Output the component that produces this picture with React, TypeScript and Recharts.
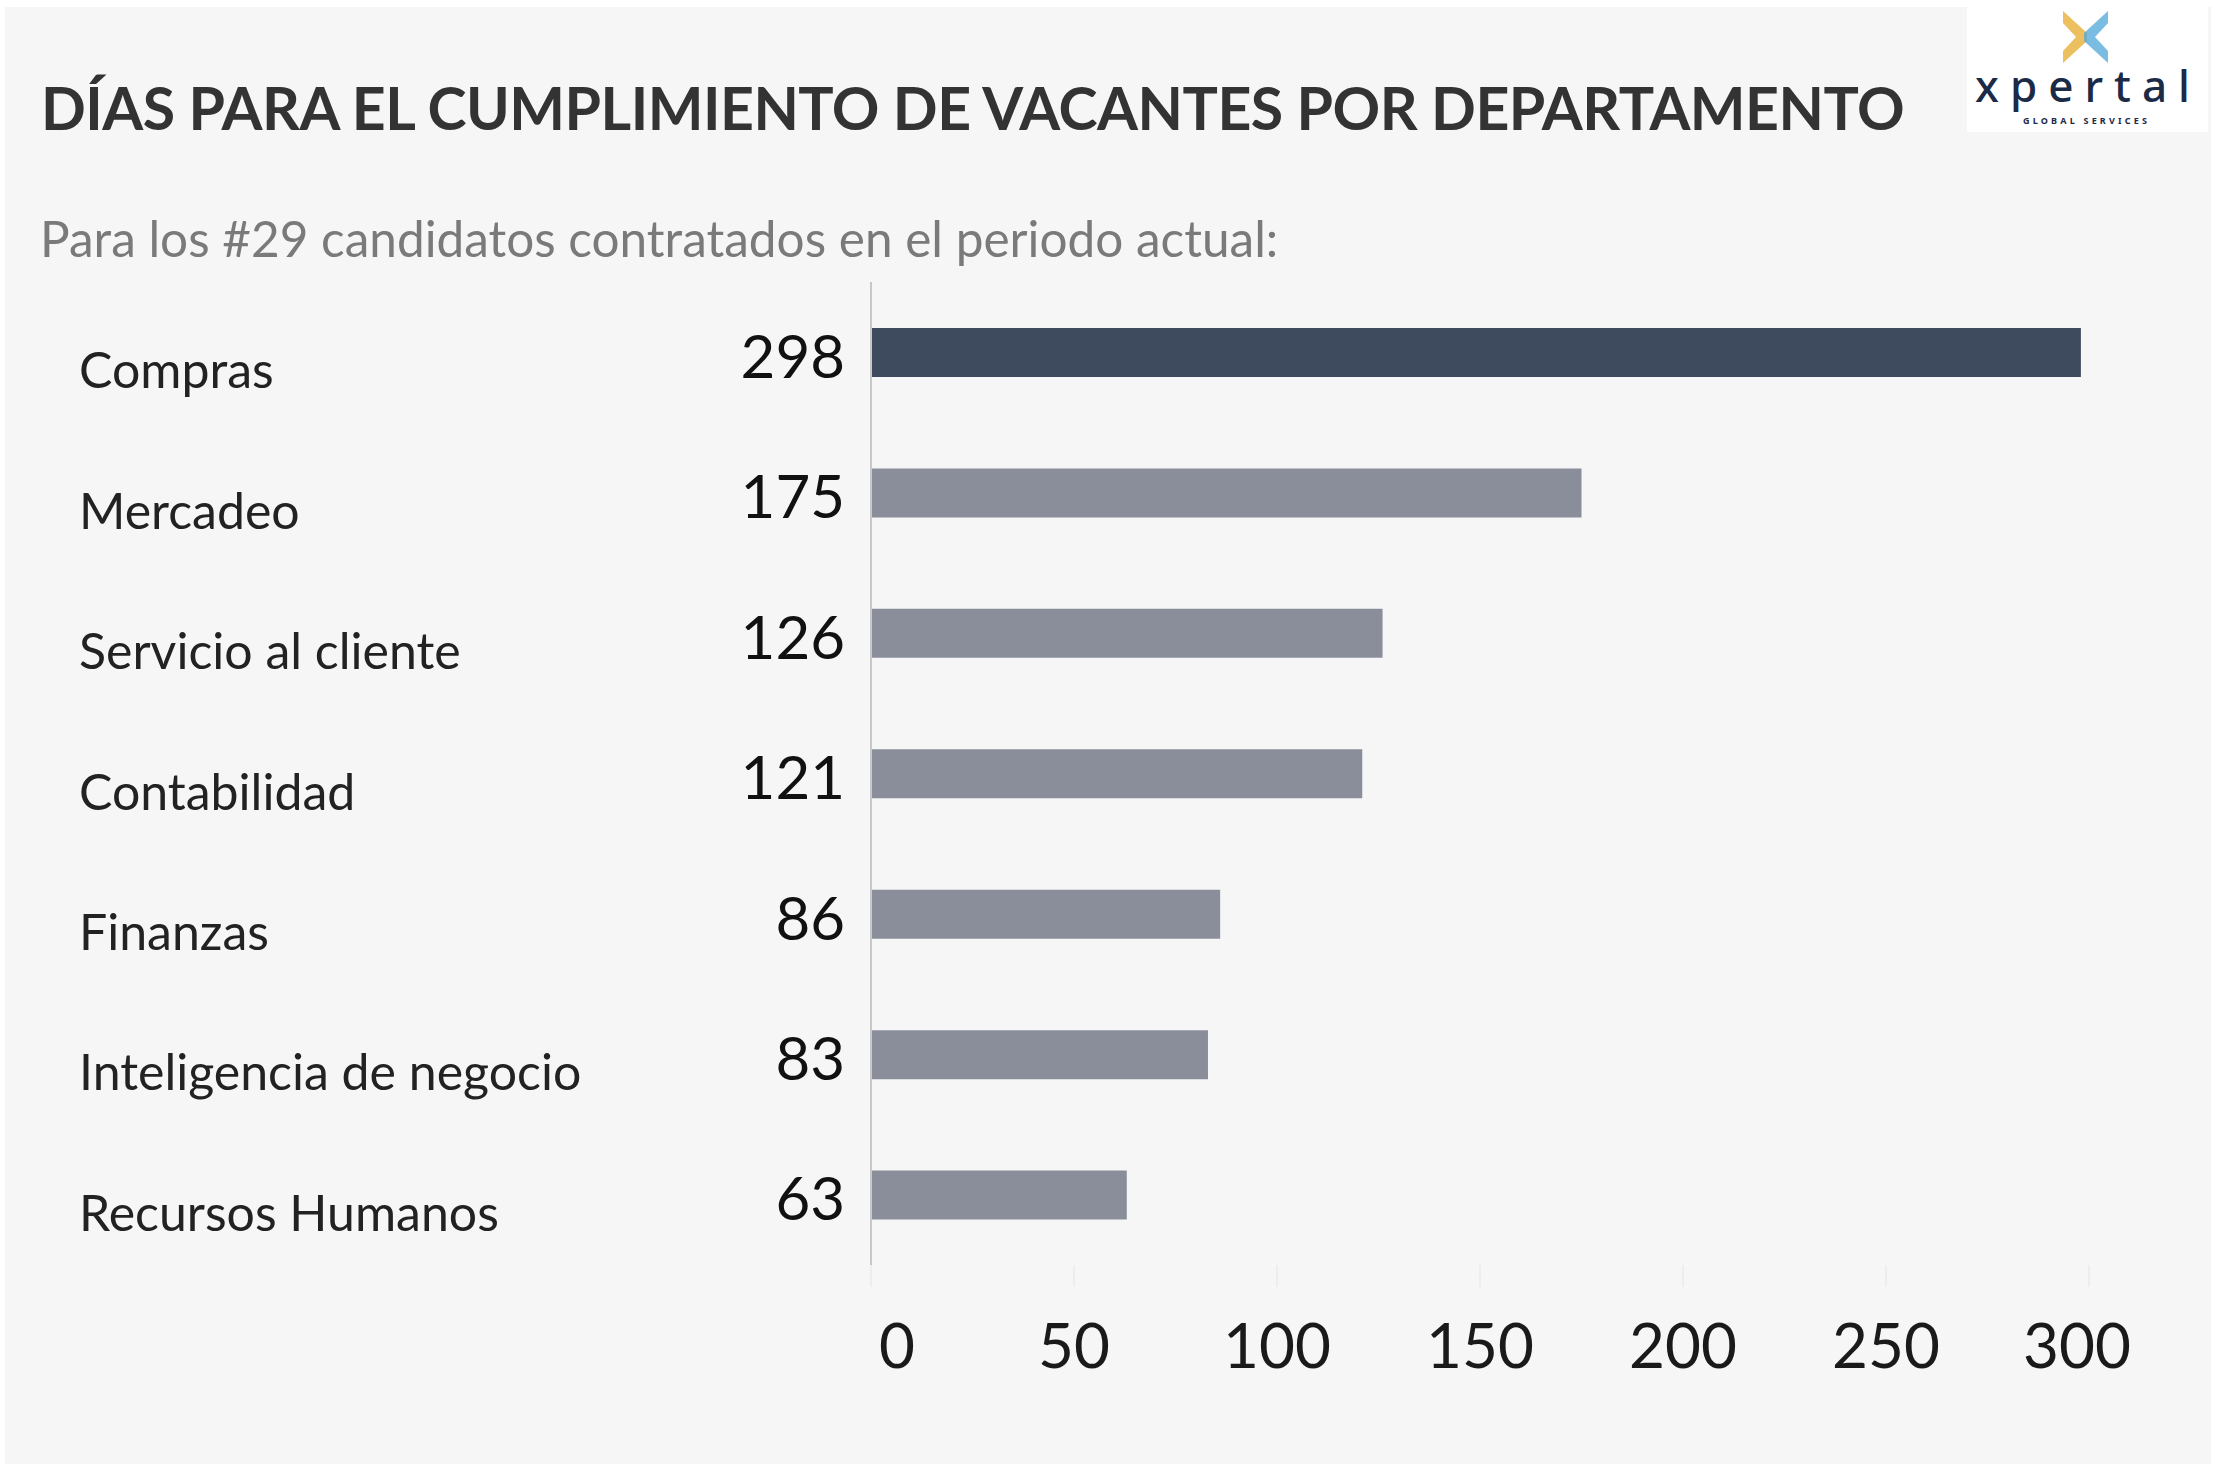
import React from 'react'
import { Bar, BarChart, Cell, LabelList, XAxis, YAxis } from 'recharts'

const DEPARTMENTS = [
  'Compras',
  'Mercadeo',
  'Servicio al cliente',
  'Contabilidad',
  'Finanzas',
  'Inteligencia de negocio',
  'Recursos Humanos',
]
const DAYS = [298, 175, 126, 121, 86, 83, 63]
const X_TICKS = [0, 50, 100, 150, 200, 250, 300]

const HIGHLIGHT = '#3e4a5e'
const MUTED = '#898e9a'
const FONT = 'Lato, "Noto Sans", sans-serif'

const data = DEPARTMENTS.map((name, i) => ({ name, days: DAYS[i] }))

function CategoryTick({ y, payload }: any) {
  return (
    <text x={79} y={y + 17} dominantBaseline="central" textAnchor="start" fontFamily={FONT} fontSize={50} fill="#222">
      {payload.value}
    </text>
  )
}

function ValueTick({ x, payload, index }: any) {
  const dx = index === 0 ? 26 : index === X_TICKS.length - 1 ? -12 : 0
  return (
    <text x={x + dx} y={1344} dominantBaseline="central" textAnchor="middle" fontFamily={FONT} fontSize={62} fill="#1a1a1a">
      {payload.value}
    </text>
  )
}

function Logo() {
  return (
    <div style={{ position: 'absolute', left: 1967, top: 7, width: 241, height: 125, background: '#fff' }}>
      <svg width={241} height={125} viewBox="1967 7 241 125" style={{ position: 'absolute', left: 0, top: 0 }}>
        <polygon points="2063,11 2087,33 2087,41 2063,63 2063,51 2076,37 2063,23" fill="#e9b443" opacity={0.85} />
        <polygon points="2108,11 2084,33 2084,41 2108,63 2108,51 2095,37 2108,23" fill="#4fa6da" opacity={0.75} />
        <text x={1975} y={102} textAnchor="start" fontFamily='"Noto Sans", sans-serif' fontWeight={500} fontSize={44} letterSpacing={11} fill="#1b2a47">
          xpertal
        </text>
        <text x={2023} y={124} textAnchor="start" fontFamily='"Noto Sans", sans-serif' fontWeight={700} fontSize={9} letterSpacing={3.2} fill="#1b2a47">
          GLOBAL SERVICES
        </text>
      </svg>
    </div>
  )
}

export default function App() {
  return (
    <div style={{ position: 'absolute', left: 0, top: 0, width: 2216, height: 1464, background: '#fff', overflow: 'hidden' }}>
      <div style={{ position: 'absolute', left: 5, top: 7, width: 2206, height: 1457, background: '#f6f6f6' }} />
      <BarChart
        width={2216}
        height={1464}
        data={data}
        layout="vertical"
        margin={{ top: 282, right: 127, bottom: 0, left: 0 }}
        style={{ position: 'absolute', left: 0, top: 0 }}
      >
        <XAxis
          type="number"
          domain={[0, 300]}
          ticks={X_TICKS}
          height={199}
          axisLine={false}
          tickLine={{ stroke: '#ededed', strokeWidth: 2 }}
          tickSize={22}
          tick={<ValueTick />}
        />
        <YAxis
          type="category"
          dataKey="name"
          width={871}
          axisLine={{ stroke: '#c8c8c8', strokeWidth: 2 }}
          tickLine={false}
          tick={<CategoryTick />}
        />
        <Bar dataKey="days" barSize={49} isAnimationActive={false}>
          {data.map((d, i) => (
            <Cell key={d.name} fill={i === 0 ? HIGHLIGHT : MUTED} />
          ))}
          <LabelList dataKey="days" position="left" offset={26} dy={4} fontFamily={FONT} fontSize={60} fill="#111" />
        </Bar>
      </BarChart>
      <div
        style={{
          position: 'absolute', left: 41, top: 78, fontFamily: FONT, fontWeight: 700, fontSize: 59,
          letterSpacing: -0.5, color: '#333', whiteSpace: 'nowrap', lineHeight: 1,
        }}
      >
        DÍAS PARA EL CUMPLIMIENTO DE VACANTES POR DEPARTAMENTO
      </div>
      <div
        style={{
          position: 'absolute', left: 40, top: 214, fontFamily: FONT, fontSize: 49.5,
          color: '#7a7a7a', whiteSpace: 'nowrap', lineHeight: 1,
        }}
      >
        Para los #29 candidatos contratados en el periodo actual:
      </div>
      <Logo />
    </div>
  )
}
